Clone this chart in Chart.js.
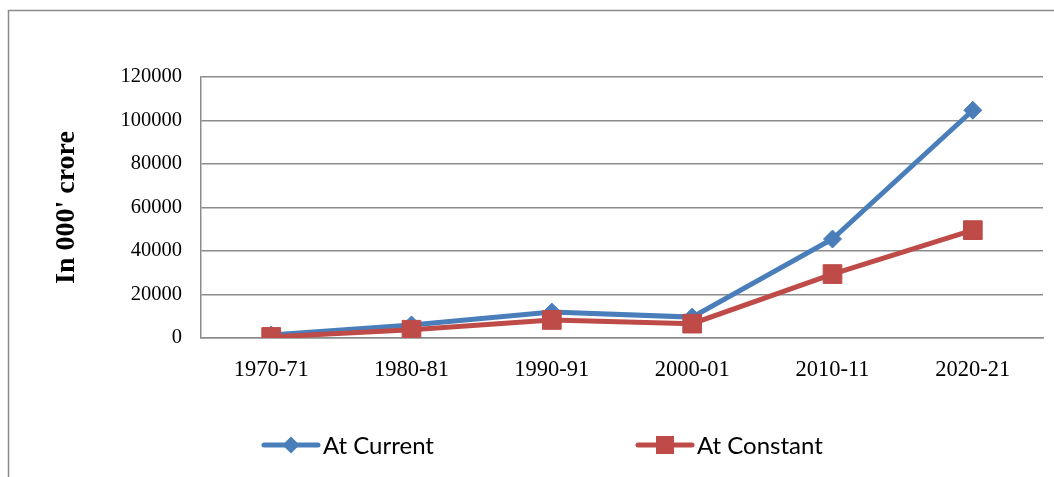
<!DOCTYPE html>
<html>
<head>
<meta charset="utf-8">
<script src="https://cdn.jsdelivr.net/npm/chart.js@4"></script>
<style>
  html, body { margin: 0; padding: 0; background: #fff; }
  #wrap { width: 1054px; height: 477px; position: relative; }
</style>
</head>
<body>
<div id="wrap"><canvas id="chart" width="1054" height="477"></canvas></div>
<script>
const years = ["1970-71", "1980-81", "1990-91", "2000-01", "2010-11", "2020-21"];
const atCurrent = [1400, 6000, 11900, 9600, 45500, 104700];
const atConstant = [500, 3800, 8300, 6600, 29400, 49600];
const yTicks = [0, 20000, 40000, 60000, 80000, 100000, 120000];

const blue = "#4a7ebb";
const red = "#be4b48";
const gridGray = "#8c8c8c";

// frame round the chart (only left and top edges show)
const framePlugin = {
  id: "frame",
  beforeDraw(chart) {
    const ctx = chart.ctx;
    ctx.save();
    ctx.strokeStyle = "#8a8a8a";
    ctx.lineWidth = 1.5;
    ctx.beginPath();
    ctx.moveTo(8.5, 477);
    ctx.lineTo(8.5, 10.5);
    ctx.lineTo(1054, 10.5);
    ctx.stroke();
    ctx.restore();
  },
};

// legend with line + marker sample, like the office chart
const legendPlugin = {
  id: "lineLegend",
  afterDraw(chart) {
    const ctx = chart.ctx;
    const items = [
      { x: 264, ds: chart.data.datasets[0], shape: "diamond" },
      { x: 638, ds: chart.data.datasets[1], shape: "square" },
    ];
    const y = 445;
    ctx.save();
    items.forEach((it) => {
      ctx.strokeStyle = it.ds.borderColor;
      ctx.fillStyle = it.ds.borderColor;
      ctx.lineWidth = 5;
      ctx.lineCap = "round";
      ctx.beginPath();
      ctx.moveTo(it.x, y);
      ctx.lineTo(it.x + 54, y);
      ctx.stroke();
      const cx = it.x + 27;
      ctx.beginPath();
      if (it.shape === "diamond") {
        ctx.moveTo(cx, y - 8.5);
        ctx.lineTo(cx + 8.5, y);
        ctx.lineTo(cx, y + 8.5);
        ctx.lineTo(cx - 8.5, y);
        ctx.closePath();
      } else {
        ctx.rect(cx - 9, y - 9, 18, 18);
      }
      ctx.fill();
      ctx.fillStyle = "#000";
      ctx.font = "24px Lato, 'Open Sans', sans-serif";
      ctx.textBaseline = "middle";
      ctx.textAlign = "left";
      ctx.fillText(it.ds.label, it.x + 59, y + 1);
    });
    ctx.restore();
  },
};

new Chart(document.getElementById("chart"), {
  type: "line",
  data: {
    labels: years,
    datasets: [
      {
        label: "At Current",
        data: atCurrent,
        borderColor: blue,
        backgroundColor: blue,
        borderWidth: 5,
        pointStyle: "rectRot",
        pointRadius: 9,
        pointBorderWidth: 1,
        tension: 0,
        order: 1,
      },
      {
        label: "At Constant",
        data: atConstant,
        borderColor: red,
        backgroundColor: red,
        borderWidth: 5,
        pointStyle: "rect",
        pointRadius: 13.2,
        pointBorderWidth: 1,
        tension: 0,
        order: 0,
      },
    ],
  },
  options: {
    responsive: false,
    animation: false,
    layout: { autoPadding: false, padding: { left: 0, top: 77, right: 11, bottom: 0 } },
    plugins: {
      legend: { display: false },
      tooltip: { enabled: false },
    },
    scales: {
      x: {
        offset: true,
        grid: { display: false, drawTicks: false },
        border: { display: true, color: gridGray, width: 1.5 },
        ticks: {
          color: "#000",
          padding: 19,
          font: { family: "'Liberation Serif', 'Times New Roman', serif", size: 22.5 },
        },
        afterFit(scale) {
          scale.height = 139;
        },
      },
      y: {
        min: 0,
        max: 120000,
        afterBuildTicks(scale) {
          scale.ticks = yTicks.map((v) => ({ value: v }));
        },
        grid: { color: gridGray, lineWidth: 1.5, drawTicks: false },
        border: { display: true, color: gridGray, width: 1.5 },
        ticks: {
          color: "#000",
          padding: 19,
          callback: (v) => String(v),
          font: { family: "'Liberation Serif', 'Times New Roman', serif", size: 20.5 },
        },
        title: {
          display: true,
          text: "In 000' crore",
          color: "#000",
          padding: { top: 50, bottom: 0 },
          font: { family: "'Liberation Serif', 'Times New Roman', serif", size: 28, weight: "bold" },
        },
        afterFit(scale) {
          scale.width = 201;
        },
      },
    },
  },
  plugins: [framePlugin, legendPlugin],
});
</script>
</body>
</html>
